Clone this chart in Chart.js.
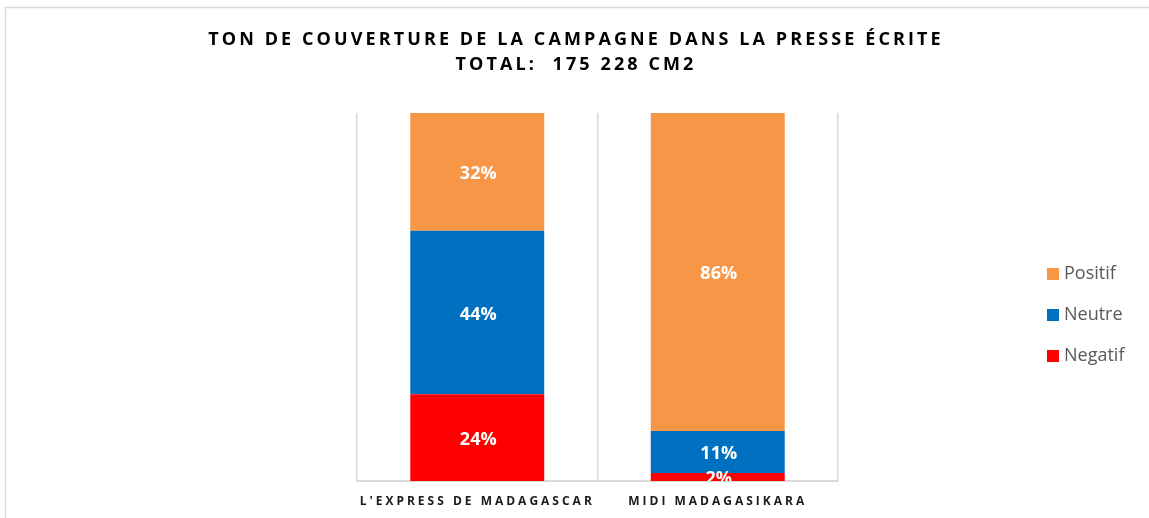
<!DOCTYPE html>
<html>
<head>
<meta charset="utf-8">
<script src="https://cdn.jsdelivr.net/npm/chart.js@4/dist/chart.umd.min.js"></script>
<style>
  html, body { margin: 0; padding: 0; background: #fff; }
  #wrap { width: 1149px; height: 518px; position: relative; }
</style>
</head>
<body>
<div id="wrap"><canvas id="myChart" width="1149" height="518"></canvas></div>
<script>
const categories = ["L'EXPRESS DE MADAGASCAR", 'MIDI MADAGASIKARA'];
const negatif = [23.6, 2.2];
const neutre = [44.4, 11.4];
const positif = [32.0, 86.4];
const titleLines = ['TON DE COUVERTURE DE LA CAMPAGNE DANS LA PRESSE ÉCRITE', 'TOTAL:  175 228 CM2'];

const FONT = "'Open Sans', sans-serif";

// background, outer frame, spaced title; spaced capitals for axis labels
const frame = {
  id: 'frame',
  beforeDraw(chart) {
    const ctx = chart.ctx;
    ctx.save();
    ctx.fillStyle = '#fff';
    ctx.fillRect(0, 0, chart.width, chart.height);
    ctx.strokeStyle = '#d9d9d9';
    ctx.lineWidth = 1.5;
    ctx.strokeRect(5.5, 7.5, chart.width + 10, chart.height + 10);

    ctx.letterSpacing = '3.1px';
    ctx.fillStyle = '#000';
    ctx.font = 'bold 18px ' + FONT;
    ctx.textAlign = 'center';
    ctx.textBaseline = 'middle';
    titleLines.forEach((t, i) => {
      ctx.fillText(t, chart.width / 2 + 1.5, 39.5 + i * 25);
    });
    ctx.restore();
    ctx.letterSpacing = '3px';
  },
  beforeDatasetsDraw(chart) {
    chart.ctx.letterSpacing = '0px';
  }
};

// value labels inside the segments
const segLabels = {
  id: 'segLabels',
  afterDatasetsDraw(chart) {
    const ctx = chart.ctx;
    const a = chart.chartArea;
    ctx.save();
    ctx.beginPath();
    ctx.rect(a.left, a.top, a.right - a.left, a.bottom - a.top);
    ctx.clip();
    ctx.fillStyle = '#fff';
    ctx.font = 'bold 18px ' + FONT;
    ctx.textAlign = 'center';
    ctx.textBaseline = 'middle';
    chart.data.datasets.forEach((ds, i) => {
      chart.getDatasetMeta(i).data.forEach((bar, j) => {
        const p = bar.getProps(['x', 'y', 'base'], true);
        ctx.fillText(Math.round(ds.data[j]) + '%', p.x + 1, (p.y + p.base) / 2 + 2);
      });
    });
    ctx.restore();
  }
};

// legend on the right, Positif on top
const sideLegend = {
  id: 'sideLegend',
  afterDraw(chart) {
    const ctx = chart.ctx;
    ctx.save();
    ctx.letterSpacing = '0px';
    ctx.font = '18px ' + FONT;
    ctx.textBaseline = 'middle';
    ctx.textAlign = 'left';
    const items = chart.data.datasets.slice().reverse();
    items.forEach((ds, k) => {
      const cy = 274 + k * 41;
      ctx.fillStyle = ds.backgroundColor;
      ctx.fillRect(1047, cy - 6, 12, 12);
      ctx.fillStyle = '#595959';
      ctx.fillText(ds.label, 1064, cy);
    });
    ctx.restore();
  }
};

const ctx = document.getElementById('myChart').getContext('2d');
new Chart(ctx, {
  type: 'bar',
  data: {
    labels: categories,
    datasets: [
      { label: 'Negatif', data: negatif, backgroundColor: '#FF0000' },
      { label: 'Neutre', data: neutre, backgroundColor: '#0070C0' },
      { label: 'Positif', data: positif, backgroundColor: '#F79646' }
    ]
  },
  options: {
    responsive: false,
    animation: false,
    layout: { padding: { left: 357, right: 311, top: 113, bottom: 0 } },
    datasets: { bar: { categoryPercentage: 1, barPercentage: 0.557 } },
    plugins: {
      legend: { display: false },
      tooltip: { enabled: false },
      title: { display: false }
    },
    scales: {
      x: {
        stacked: true,
        grid: { display: true, offset: true, drawTicks: false, color: '#d9d9d9', lineWidth: 1.5 },
        border: { display: true, color: '#d9d9d9', width: 2 },
        ticks: {
          color: '#1a1a1a', padding: 13, maxRotation: 0, autoSkip: false,
          font: { family: FONT, size: 12, weight: 'bold' }
        },
        afterFit(scale) { scale.height = 37; }
      },
      y: {
        stacked: true,
        display: false,
        min: 0,
        max: 100
      }
    }
  },
  plugins: [frame, segLabels, sideLegend]
});
</script>
</body>
</html>
